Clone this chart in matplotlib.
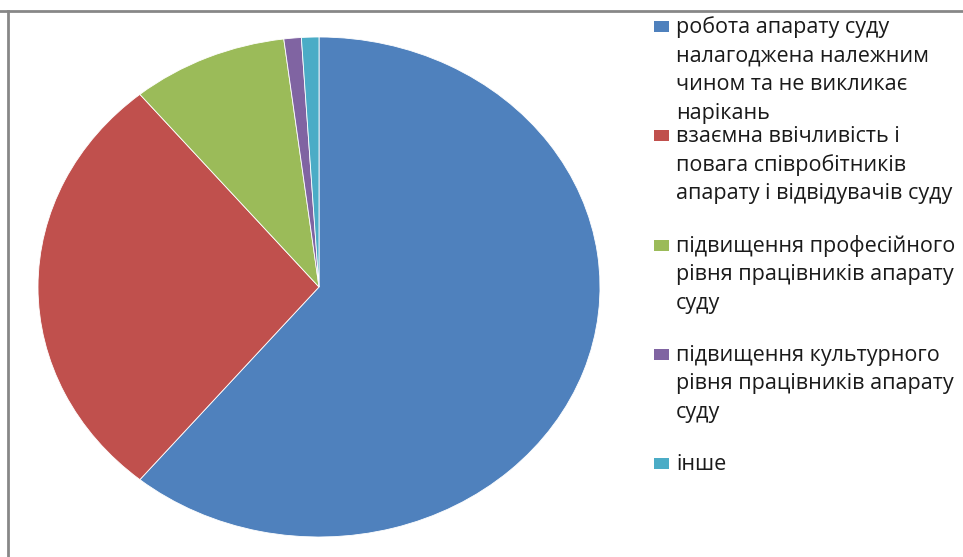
import matplotlib
matplotlib.use('Agg')
import matplotlib.pyplot as plt
from matplotlib.patches import Rectangle
from matplotlib.lines import Line2D

plt.rcParams['font.family'] = ['Open Sans', 'DejaVu Sans']

labels = [
    "робота апарату суду\nналагоджена належним\nчином та не викликає\nнарікань",
    "взаємна ввічливість і\nповага співробітників\nапарату і відвідувачів суду",
    "підвищення професійного\nрівня працівників апарату\nсуду",
    "підвищення культурного\nрівня працівників апарату\nсуду",
    "інше",
]
values = [61, 28, 9, 1, 1]
colors = ['#4F81BD', '#C0504D', '#9BBB59', '#8064A2', '#4BACC6']

W, H = 963, 557
fig = plt.figure(figsize=(W / 100, H / 100), dpi=100)

def fx(px): return px / W
def fy(py): return 1 - py / H

# pie drawn into a stretched axes so it comes out as an ellipse like the original
ax = fig.add_axes([fx(38), fy(537), fx(600) - fx(38), fy(37) - fy(537)])
ax.pie(values, colors=colors, startangle=90, counterclock=False,
       wedgeprops=dict(edgecolor='white', linewidth=0.6))
ax.set_aspect('auto')
ax.set_xlim(-1, 1)
ax.set_ylim(-1, 1)
ax.axis('off')

# frame remnants (top and left edge)
fig.add_artist(Line2D([0, 1], [fy(11), fy(11)], color='#878787', lw=2, transform=fig.transFigure))
fig.add_artist(Line2D([fx(8), fx(8)], [fy(11), 0], color='#878787', lw=2, transform=fig.transFigure))

# legend, laid out by hand
line_h = 28.6
for i, (lab, col) in enumerate(zip(labels, colors)):
    base = 33 + i * 109.3
    fig.add_artist(Rectangle((fx(654), fy(base - 1)), fx(15), fy(0) - fy(11),
                             facecolor=col, edgecolor='none', transform=fig.transFigure))
    for j, line in enumerate(lab.split('\n')):
        fig.text(fx(676), fy(base + j * line_h), line, fontsize=15.5,
                 color='#1a1a1a', va='baseline', ha='left')

fig.savefig('out.png', dpi=100)
